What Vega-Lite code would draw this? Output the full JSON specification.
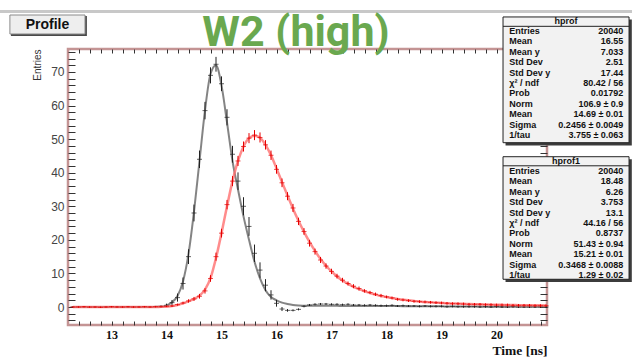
{
"$schema": "https://vega.github.io/schema/vega-lite/v6.json",
"width": 479, "height": 276,
"autosize": {"type": "none"},
"padding": {"left": 68, "top": 49, "right": 85, "bottom": 32},
"background": "white",
"datasets": {
"black": [
{"t":12.3,"y":0.0,"e":0.2,"f":0},{"t":12.4,"y":0.1,"e":0.2,"f":0},{"t":12.5,"y":0.0,"e":0.2,"f":0},{"t":12.6,"y":-0.1,"e":0.2,"f":0},{"t":12.7,"y":0.0,"e":0.2,"f":0},{"t":12.8,"y":0.1,"e":0.2,"f":0},{"t":12.9,"y":0.0,"e":0.2,"f":0},{"t":13.0,"y":0.0,"e":0.2,"f":0},{"t":13.1,"y":0.1,"e":0.2,"f":0},{"t":13.2,"y":0.0,"e":0.2,"f":0},{"t":13.3,"y":-0.1,"e":0.2,"f":0},{"t":13.4,"y":0.0,"e":0.2,"f":0},{"t":13.5,"y":0.1,"e":0.2,"f":0},{"t":13.6,"y":0.0,"e":0.2,"f":0},{"t":13.7,"y":0.1,"e":0.2,"f":0},{"t":13.8,"y":0.1,"e":0.2,"f":0.05},{"t":13.9,"y":0.2,"e":0.3,"f":0.1},
{"t":14.0,"y":0.5,"e":0.5,"f":0.5},{"t":14.1,"y":1.3,"e":0.8,"f":1.4},{"t":14.2,"y":2.8,"e":1.2,"f":3.3},{"t":14.3,"y":7.0,"e":1.8,"f":7.6},{"t":14.4,"y":15.0,"e":2.2,"f":15.8},{"t":14.5,"y":28.0,"e":2.5,"f":28.4},{"t":14.6,"y":44.0,"e":2.6,"f":43.5},{"t":14.7,"y":58.5,"e":2.6,"f":58.6},{"t":14.8,"y":69.0,"e":2.4,"f":69.4},{"t":14.9,"y":72.3,"e":2.2,"f":72.0},
{"t":15.0,"y":66.5,"e":2.2,"f":66.0},{"t":15.1,"y":56.5,"e":2.4,"f":55.0},{"t":15.2,"y":45.5,"e":2.5,"f":43.5},{"t":15.3,"y":37.5,"e":2.6,"f":35.0},{"t":15.4,"y":30.0,"e":2.7,"f":27.0},{"t":15.5,"y":24.0,"e":2.8,"f":20.0},{"t":15.6,"y":16.0,"e":2.6,"f":13.5},{"t":15.7,"y":11.0,"e":2.3,"f":8.5},{"t":15.8,"y":6.5,"e":1.8,"f":5.0},{"t":15.9,"y":3.6,"e":1.4,"f":3.0},
{"t":16.0,"y":1.1,"e":1.0,"f":2.0},{"t":16.1,"y":-0.6,"e":0.6,"f":1.3},{"t":16.2,"y":-1.0,"e":0.4,"f":0.9},{"t":16.3,"y":-1.0,"e":0.3,"f":0.6},{"t":16.4,"y":-0.7,"e":0.3,"f":0.45},{"t":16.5,"y":0.2,"e":0.3,"f":0.4},{"t":16.6,"y":0.6,"e":0.3,"f":0.38},{"t":16.7,"y":0.8,"e":0.3,"f":0.36},{"t":16.8,"y":0.9,"e":0.3,"f":0.35},{"t":16.9,"y":0.9,"e":0.3,"f":0.35},
{"t":17.0,"y":0.8,"e":0.3,"f":0.34},{"t":17.1,"y":0.8,"e":0.3,"f":0.34},{"t":17.2,"y":0.7,"e":0.3,"f":0.33},{"t":17.3,"y":0.8,"e":0.3,"f":0.33},{"t":17.4,"y":0.6,"e":0.3,"f":0.32},{"t":17.5,"y":0.6,"e":0.3,"f":0.32},{"t":17.6,"y":0.5,"e":0.3,"f":0.31},{"t":17.7,"y":0.6,"e":0.3,"f":0.31},{"t":17.8,"y":0.5,"e":0.3,"f":0.3},{"t":17.9,"y":0.4,"e":0.3,"f":0.3},
{"t":18.0,"y":0.4,"e":0.3,"f":0.29},{"t":18.1,"y":0.5,"e":0.3,"f":0.28},{"t":18.2,"y":0.3,"e":0.3,"f":0.27},{"t":18.3,"y":0.4,"e":0.3,"f":0.26},{"t":18.4,"y":0.3,"e":0.3,"f":0.25},{"t":18.5,"y":0.3,"e":0.3,"f":0.24},{"t":18.6,"y":0.2,"e":0.3,"f":0.23},{"t":18.7,"y":0.3,"e":0.3,"f":0.22},{"t":18.8,"y":0.2,"e":0.3,"f":0.21},{"t":18.9,"y":0.2,"e":0.3,"f":0.2},
{"t":19.0,"y":0.2,"e":0.3,"f":0.19},{"t":19.1,"y":0.1,"e":0.3,"f":0.18},{"t":19.2,"y":0.2,"e":0.3,"f":0.17},{"t":19.3,"y":0.1,"e":0.3,"f":0.16},{"t":19.4,"y":0.1,"e":0.3,"f":0.15},{"t":19.5,"y":0.1,"e":0.3,"f":0.14},{"t":19.6,"y":0.1,"e":0.3,"f":0.13},{"t":19.7,"y":0.0,"e":0.3,"f":0.12},{"t":19.8,"y":0.1,"e":0.3,"f":0.11},{"t":19.9,"y":0.0,"e":0.3,"f":0.1},
{"t":20.0,"y":0.1,"e":0.3,"f":0.1},{"t":20.1,"y":0.0,"e":0.3,"f":0.09},{"t":20.2,"y":0.0,"e":0.3,"f":0.08},{"t":20.3,"y":0.1,"e":0.3,"f":0.08},{"t":20.4,"y":0.0,"e":0.3,"f":0.07},{"t":20.5,"y":0.0,"e":0.3,"f":0.07},{"t":20.6,"y":0.0,"e":0.3,"f":0.06},{"t":20.7,"y":0.0,"e":0.3,"f":0.06},{"t":20.8,"y":0.0,"e":0.3,"f":0.05},{"t":20.9,"y":0.0,"e":0.3,"f":0.05}
],
"red": [
{"t":12.3,"y":0.0,"e":0.2,"f":0},{"t":12.4,"y":0.0,"e":0.2,"f":0},{"t":12.5,"y":0.1,"e":0.2,"f":0},{"t":12.6,"y":0.0,"e":0.2,"f":0},{"t":12.7,"y":0.0,"e":0.2,"f":0},{"t":12.8,"y":-0.1,"e":0.2,"f":0},{"t":12.9,"y":0.0,"e":0.2,"f":0},{"t":13.0,"y":0.1,"e":0.2,"f":0},{"t":13.1,"y":0.0,"e":0.2,"f":0},{"t":13.2,"y":0.0,"e":0.2,"f":0},{"t":13.3,"y":0.1,"e":0.2,"f":0},{"t":13.4,"y":0.0,"e":0.2,"f":0},{"t":13.5,"y":0.0,"e":0.2,"f":0},{"t":13.6,"y":0.1,"e":0.2,"f":0},{"t":13.7,"y":0.0,"e":0.2,"f":0},{"t":13.8,"y":0.1,"e":0.2,"f":0.02},{"t":13.9,"y":0.1,"e":0.2,"f":0.05},
{"t":14.0,"y":0.2,"e":0.2,"f":0.1},{"t":14.1,"y":0.3,"e":0.3,"f":0.3},{"t":14.2,"y":0.7,"e":0.3,"f":0.6},{"t":14.3,"y":1.2,"e":0.4,"f":1.1},{"t":14.4,"y":1.8,"e":0.5,"f":1.7},{"t":14.5,"y":2.4,"e":0.6,"f":2.4},{"t":14.6,"y":3.2,"e":0.7,"f":3.4},{"t":14.7,"y":4.8,"e":0.8,"f":5.2},{"t":14.8,"y":8.5,"e":1.0,"f":8.6},{"t":14.9,"y":15.0,"e":1.2,"f":14.6},
{"t":15.0,"y":22.0,"e":1.3,"f":22.0},{"t":15.1,"y":30.5,"e":1.4,"f":30.0},{"t":15.2,"y":37.5,"e":1.5,"f":37.5},{"t":15.3,"y":43.5,"e":1.5,"f":43.5},{"t":15.4,"y":47.8,"e":1.5,"f":47.8},{"t":15.5,"y":50.3,"e":1.5,"f":50.3},{"t":15.6,"y":51.2,"e":1.5,"f":51.0},{"t":15.7,"y":50.5,"e":1.5,"f":50.4},{"t":15.8,"y":48.3,"e":1.4,"f":48.3},{"t":15.9,"y":45.2,"e":1.4,"f":45.2},
{"t":16.0,"y":41.0,"e":1.3,"f":41.3},{"t":16.1,"y":37.0,"e":1.3,"f":37.2},{"t":16.2,"y":33.0,"e":1.2,"f":33.2},{"t":16.3,"y":29.5,"e":1.2,"f":29.3},{"t":16.4,"y":25.5,"e":1.1,"f":25.7},{"t":16.5,"y":22.5,"e":1.0,"f":22.4},{"t":16.6,"y":19.0,"e":1.0,"f":19.4},{"t":16.7,"y":16.5,"e":0.9,"f":16.7},{"t":16.8,"y":14.0,"e":0.9,"f":14.3},{"t":16.9,"y":12.2,"e":0.8,"f":12.3},
{"t":17.0,"y":10.6,"e":0.8,"f":10.6},{"t":17.1,"y":9.2,"e":0.7,"f":9.1},{"t":17.2,"y":8.0,"e":0.7,"f":7.9},{"t":17.3,"y":7.0,"e":0.6,"f":6.9},{"t":17.4,"y":6.2,"e":0.6,"f":6.0},{"t":17.5,"y":5.5,"e":0.6,"f":5.3},{"t":17.6,"y":4.8,"e":0.5,"f":4.7},{"t":17.7,"y":4.3,"e":0.5,"f":4.2},{"t":17.8,"y":3.8,"e":0.5,"f":3.7},{"t":17.9,"y":3.4,"e":0.5,"f":3.3},
{"t":18.0,"y":3.0,"e":0.4,"f":3.0},{"t":18.1,"y":2.7,"e":0.4,"f":2.7},{"t":18.2,"y":2.3,"e":0.4,"f":2.4},{"t":18.3,"y":2.1,"e":0.4,"f":2.2},{"t":18.4,"y":1.9,"e":0.4,"f":2.0},{"t":18.5,"y":1.7,"e":0.4,"f":1.8},{"t":18.6,"y":1.6,"e":0.4,"f":1.65},{"t":18.7,"y":1.5,"e":0.4,"f":1.5},{"t":18.8,"y":1.4,"e":0.4,"f":1.4},{"t":18.9,"y":1.3,"e":0.4,"f":1.3},
{"t":19.0,"y":1.2,"e":0.4,"f":1.2},{"t":19.1,"y":1.1,"e":0.4,"f":1.1},{"t":19.2,"y":1.0,"e":0.4,"f":1.05},{"t":19.3,"y":1.0,"e":0.4,"f":1.0},{"t":19.4,"y":0.9,"e":0.4,"f":0.95},{"t":19.5,"y":0.8,"e":0.4,"f":0.9},{"t":19.6,"y":0.8,"e":0.4,"f":0.85},{"t":19.7,"y":0.8,"e":0.4,"f":0.8},{"t":19.8,"y":0.7,"e":0.4,"f":0.75},{"t":19.9,"y":0.7,"e":0.4,"f":0.7},
{"t":20.0,"y":0.6,"e":0.4,"f":0.7},{"t":20.1,"y":0.6,"e":0.4,"f":0.65},{"t":20.2,"y":0.6,"e":0.4,"f":0.6},{"t":20.3,"y":0.5,"e":0.4,"f":0.6},{"t":20.4,"y":0.5,"e":0.4,"f":0.55},{"t":20.5,"y":0.5,"e":0.4,"f":0.55},{"t":20.6,"y":0.5,"e":0.4,"f":0.5},{"t":20.7,"y":0.4,"e":0.4,"f":0.5},{"t":20.8,"y":0.4,"e":0.4,"f":0.5},{"t":20.9,"y":0.4,"e":0.4,"f":0.45}
],
"s1": [
{"k":1,"label":"Entries","val":"20040"},{"k":2,"label":"Mean","val":"16.55"},{"k":3,"label":"Mean y","val":"7.033"},{"k":4,"label":"Std Dev","val":"2.51"},{"k":5,"label":"Std Dev y","val":"17.44"},{"k":6,"label":"χ² / ndf","val":"80.42 / 56"},{"k":7,"label":"Prob","val":"0.01792"},{"k":8,"label":"Norm","val":"106.9 ± 0.9"},{"k":9,"label":"Mean","val":"14.69 ± 0.01"},{"k":10,"label":"Sigma","val":"0.2456 ± 0.0049"},{"k":11,"label":"1/tau","val":"3.755 ± 0.063"}
],
"s2": [
{"k":1,"label":"Entries","val":"20040"},{"k":2,"label":"Mean","val":"18.48"},{"k":3,"label":"Mean y","val":"6.26"},{"k":4,"label":"Std Dev","val":"3.753"},{"k":5,"label":"Std Dev y","val":"13.1"},{"k":6,"label":"χ² / ndf","val":"44.16 / 56"},{"k":7,"label":"Prob","val":"0.8737"},{"k":8,"label":"Norm","val":"51.43 ± 0.94"},{"k":9,"label":"Mean","val":"15.21 ± 0.01"},{"k":10,"label":"Sigma","val":"0.3468 ± 0.0088"},{"k":11,"label":"1/tau","val":"1.29 ± 0.02"}
]
},
"layer": [
{
"encoding": {
  "x": {"field": "t", "type": "quantitative", "scale": {"domain": [12.209, 20.918], "nice": false, "zero": false},
   "axis": {"orient": "bottom", "values": [12.4,12.6,12.8,13,13.2,13.4,13.6,13.8,14,14.2,14.4,14.6,14.8,15,15.2,15.4,15.6,15.8,16,16.2,16.4,16.6,16.8,17,17.2,17.4,17.6,17.8,18,18.2,18.4,18.6,18.8,19,19.2,19.4,19.6,19.8,20,20.2,20.4,20.6,20.8],
    "labelExpr": "abs(datum.value - round(datum.value)) < 0.01 ? '' + round(datum.value) : ''",
    "labelOverlap": false, "labelFlush": false, "labelBound": false,
    "tickSize": -4, "labelPadding": 8, "tickColor": "#333333", "tickWidth": 1, "domain": false, "grid": false,
    "labelFont": "Liberation Serif", "labelFontWeight": "bold", "labelFontSize": 12, "labelColor": "#111111",
    "title": "Time [ns]", "titleFont": "Liberation Serif", "titleFontWeight": "bold", "titleFontSize": 13.5, "titleColor": "#111111", "titleAnchor": "end", "titlePadding": 3,
    "encode": {"ticks": {"y2": {"value": {"expr": "abs(datum.value - round(datum.value)) < 0.01 ? -8 : -4"}}}}}}
},
"layer": [
{"data": {"name": "black"}, "mark": {"type": "line", "color": "#6e6e6e", "strokeWidth": 2, "opacity": 0.85, "interpolate": "monotone"},
 "encoding": {"y": {"field": "f", "type": "quantitative", "scale": {"domain": [-5.36, 76.85], "nice": false, "zero": false}, "axis": null}}},
{"data": {"name": "black"}, "mark": {"type": "errorbar", "color": "#222222", "thickness": 1},
 "encoding": {"y": {"field": "y", "type": "quantitative", "axis": null}, "yError": {"field": "e"}}},
{"data": {"name": "black"}, "mark": {"type": "tick", "orient": "horizontal", "size": 5, "thickness": 1, "color": "#222222"},
 "encoding": {"y": {"field": "y", "type": "quantitative", "axis": null}}},
{"data": {"name": "red"}, "mark": {"type": "line", "color": "#ff6f6f", "strokeWidth": 2.5, "opacity": 0.8, "interpolate": "monotone"},
 "encoding": {"y": {"field": "f", "type": "quantitative", "axis": null}}},
{"data": {"name": "red"}, "mark": {"type": "errorbar", "color": "#e50000", "thickness": 1},
 "encoding": {"y": {"field": "y", "type": "quantitative", "axis": null}, "yError": {"field": "e"}}},
{"data": {"name": "red"}, "mark": {"type": "tick", "orient": "horizontal", "size": 5, "thickness": 1, "color": "#e50000"},
 "encoding": {"y": {"field": "y", "type": "quantitative", "axis": null}}}
]
},
{"data": {"name": "black"}, "mark": {"type": "point", "opacity": 0},
 "encoding": {
  "x": {"field": "t", "type": "quantitative", "scale": {"domain": [12.209, 20.918], "nice": false, "zero": false}, "axis": null},
  "y": {"field": "y", "type": "quantitative", "scale": {"domain": [-5.36, 76.85], "nice": false, "zero": false},
   "axis": {"orient": "left", "values": [-4,-2,0,2,4,6,8,10,12,14,16,18,20,22,24,26,28,30,32,34,36,38,40,42,44,46,48,50,52,54,56,58,60,62,64,66,68,70,72,74,76],
    "labelExpr": "datum.value % 10 === 0 ? datum.label : ''",
    "labelOverlap": false, "labelFlush": false, "labelBound": false,
    "tickSize": -7, "labelPadding": 11, "tickColor": "#333333", "tickWidth": 1, "domain": false, "grid": false,
    "labelFont": "Liberation Sans", "labelFontSize": 12, "labelColor": "#444444",
    "title": "Entries", "titleFont": "Liberation Sans", "titleFontWeight": "normal", "titleFontSize": 10, "titleColor": "#333333", "titleAnchor": "end", "titlePadding": 8,
    "encode": {"ticks": {"x2": {"value": {"expr": "datum.value % 10 === 0 ? 14 : 7"}}}}}}
 }},
{"data": {"name": "black"}, "mark": {"type": "point", "opacity": 0},
 "encoding": {
  "x": {"field": "t", "type": "quantitative", "scale": {"domain": [12.209, 20.918], "nice": false, "zero": false},
   "axis": {"orient": "top", "values": [12.4,12.6,12.8,13,13.2,13.4,13.6,13.8,14,14.2,14.4,14.6,14.8,15,15.2,15.4,15.6,15.8,16,16.2,16.4,16.6,16.8,17,17.2,17.4,17.6,17.8,18,18.2,18.4,18.6,18.8,19,19.2,19.4,19.6,19.8,20,20.2,20.4,20.6,20.8],
    "labels": false, "title": null, "domain": false, "grid": false, "tickSize": -4, "tickColor": "#333333", "tickWidth": 1,
    "encode": {"ticks": {"y2": {"value": {"expr": "abs(datum.value - round(datum.value)) < 0.01 ? 8 : 4"}}}}}},
  "y": {"field": "y", "type": "quantitative", "scale": {"domain": [-5.36, 76.85], "nice": false, "zero": false},
   "axis": {"orient": "right", "values": [-4,-2,0,2,4,6,8,10,12,14,16,18,20,22,24,26,28,30,32,34,36,38,40,42,44,46,48,50,52,54,56,58,60,62,64,66,68,70,72,74,76],
    "labels": false, "title": null, "domain": false, "grid": false, "tickSize": -7, "tickColor": "#333333", "tickWidth": 1,
    "encode": {"ticks": {"x2": {"value": {"expr": "datum.value % 10 === 0 ? -14 : -7"}}}}}}
 }},
{
"layer": [
{"data": {"values": [{}]}, "mark": {"type": "rule", "color": "#c8c8c8", "strokeWidth": 3},
 "encoding": {"x": {"datum": -3.992, "scale": {"domain": [-3.452, 0.349], "nice": false, "zero": false}, "axis": null}, "x2": {"datum": 1.03},
  "y": {"datum": -0.875, "scale": {"domain": [2.731, 29.269], "reverse": true, "nice": false, "zero": false}, "axis": null}}},
{"data": {"values": [{}]}, "mark": {"type": "text", "text": "W2 (high)", "font": "Roboto", "fontWeight": "bold", "fontSize": 43, "color": "#6aa84f", "align": "center", "baseline": "alphabetic"},
 "encoding": {"x": {"datum": -1.643, "axis": null}, "y": {"datum": 2.44, "axis": null}}},
{"data": {"values": [{}]}, "mark": {"type": "rect", "fill": "#4a4a4a"},
 "encoding": {"x": {"datum": -3.905, "axis": null}, "x2": {"datum": -3.302}, "y": {"datum": -0.45, "axis": null}, "y2": {"datum": 1.48}}},
{"data": {"values": [{}]}, "mark": {"type": "rect", "fill": "#eeeeee", "stroke": "#8a8a8a", "strokeWidth": 1},
 "encoding": {"x": {"datum": -3.913, "axis": null}, "x2": {"datum": -3.317}, "y": {"datum": -0.538, "axis": null}, "y2": {"datum": 1.288}}},
{"data": {"values": [{}]}, "mark": {"type": "text", "text": "Profile", "font": "Liberation Sans", "fontWeight": "bold", "fontSize": 14, "color": "#111111", "align": "center", "baseline": "middle"},
 "encoding": {"x": {"datum": -3.615, "axis": null}, "y": {"datum": 0.423, "axis": null}}},
{"data": {"values": [{}]}, "mark": {"type": "rect", "fill": "#3c3c3c"},
 "encoding": {"x": {"datum": 0.02, "axis": null}, "x2": {"datum": 1.022}, "y": {"datum": -0.1, "axis": null}, "y2": {"datum": 12.0}}},
{"data": {"values": [{}]}, "mark": {"type": "rect", "fill": "#f2f2f2", "stroke": "#222222", "strokeWidth": 1},
 "encoding": {"x": {"datum": 0, "axis": null}, "x2": {"datum": 1}, "y": {"datum": -0.35, "axis": null}, "y2": {"datum": 11.74}}},
{"data": {"values": [{}]}, "mark": {"type": "rule", "color": "#222222", "strokeWidth": 1},
 "encoding": {"x": {"datum": 0, "axis": null}, "x2": {"datum": 1}, "y": {"datum": 0.55, "axis": null}}},
{"data": {"values": [{}]}, "mark": {"type": "text", "text": "hprof", "font": "Liberation Sans", "fontWeight": "bold", "fontSize": 9, "color": "#111111", "align": "center", "baseline": "middle"},
 "encoding": {"x": {"datum": 0.5, "axis": null}, "y": {"datum": 0.05, "axis": null}}},
{"data": {"name": "s1"}, "mark": {"type": "text", "font": "Liberation Sans", "fontWeight": "bold", "fontSize": 9, "color": "#111111", "align": "left", "baseline": "middle"},
 "encoding": {"x": {"datum": 0.05, "axis": null}, "y": {"field": "k", "type": "quantitative", "axis": null}, "text": {"field": "label"}}},
{"data": {"name": "s1"}, "mark": {"type": "text", "font": "Liberation Sans", "fontWeight": "bold", "fontSize": 9, "color": "#111111", "align": "right", "baseline": "middle"},
 "encoding": {"x": {"datum": 0.955, "axis": null}, "y": {"field": "k", "type": "quantitative", "axis": null}, "text": {"field": "val"}}}
]
},
{
"layer": [
{"data": {"values": [{}]}, "mark": {"type": "rect", "fill": "#3c3c3c"},
 "encoding": {"x": {"datum": 0.02, "scale": {"domain": [-3.452, 0.349], "nice": false, "zero": false}, "axis": null}, "x2": {"datum": 1.022},
  "y": {"datum": -0.13, "scale": {"domain": [-10.731, 15.807], "reverse": true, "nice": false, "zero": false}, "axis": null}, "y2": {"datum": 11.67}}},
{"data": {"values": [{}]}, "mark": {"type": "rect", "fill": "#f2f2f2", "stroke": "#222222", "strokeWidth": 1},
 "encoding": {"x": {"datum": 0, "axis": null}, "x2": {"datum": 1}, "y": {"datum": -0.375, "axis": null}, "y2": {"datum": 11.41}}},
{"data": {"values": [{}]}, "mark": {"type": "rule", "color": "#222222", "strokeWidth": 1},
 "encoding": {"x": {"datum": 0, "axis": null}, "x2": {"datum": 1}, "y": {"datum": 0.5, "axis": null}}},
{"data": {"values": [{}]}, "mark": {"type": "text", "text": "hprof1", "font": "Liberation Sans", "fontWeight": "bold", "fontSize": 9, "color": "#111111", "align": "center", "baseline": "middle"},
 "encoding": {"x": {"datum": 0.5, "axis": null}, "y": {"datum": 0.05, "axis": null}}},
{"data": {"name": "s2"}, "mark": {"type": "text", "font": "Liberation Sans", "fontWeight": "bold", "fontSize": 9, "color": "#111111", "align": "left", "baseline": "middle"},
 "encoding": {"x": {"datum": 0.05, "axis": null}, "y": {"field": "k", "type": "quantitative", "axis": null}, "text": {"field": "label"}}},
{"data": {"name": "s2"}, "mark": {"type": "text", "font": "Liberation Sans", "fontWeight": "bold", "fontSize": 9, "color": "#111111", "align": "right", "baseline": "middle"},
 "encoding": {"x": {"datum": 0.955, "axis": null}, "y": {"field": "k", "type": "quantitative", "axis": null}, "text": {"field": "val"}}}
]
}
],
"resolve": {"scale": {"x": "independent", "y": "independent"}, "axis": {"x": "independent", "y": "independent"}},
"config": {"view": {"stroke": "#c49494", "strokeWidth": 2.5}}
}
